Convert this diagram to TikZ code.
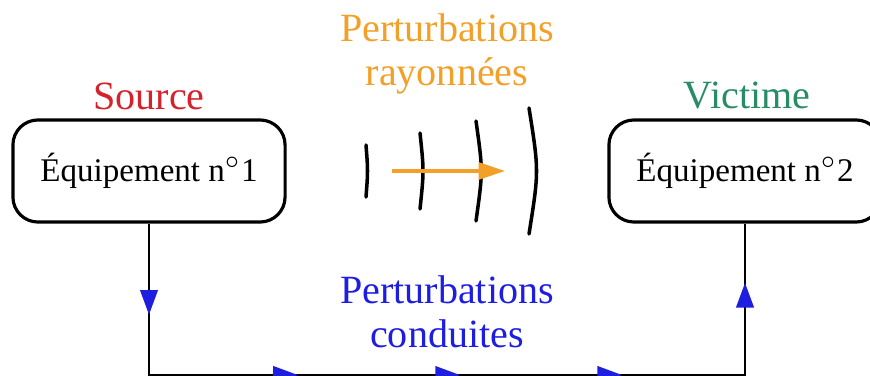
\documentclass[tikz,border=0pt]{standalone}
\usepackage{fontspec}
\setmainfont{Liberation Serif}
\usetikzlibrary{arrows.meta,decorations.markings}
\definecolor{srcred}{RGB}{214,34,44}
\definecolor{radorange}{RGB}{242,160,40}
\definecolor{vicgreen}{RGB}{40,140,100}
\definecolor{condblue}{RGB}{30,30,225}
\begin{document}
\begin{tikzpicture}[x=0.01cm, y=-0.01cm,
  ebox/.style={draw=black, line width=0.9pt, rounded corners=0.25cm, fill=white,
               minimum width=2.72cm, minimum height=1.02cm, align=center,
               font=\fontsize{9.4}{11}\selectfont},
  head/.style={align=center, font=\fontsize{11.4}{12.6}\selectfont},
  wave/.style={line width=1pt, line cap=round},
  rad/.style={-{Triangle[length=7.5pt,width=4.8pt]}, line width=0.9pt, draw=radorange},
  btip/.tip={Triangle[length=7pt,width=5pt,color=condblue]},
  cond/.style={line width=0.6pt, postaction=decorate, decoration={markings,
               mark=at position 0.91cm with {\arrow{btip}},
               mark=at position 3.0cm with {\arrow{btip}},
               mark=at position 4.62cm with {\arrow{btip}},
               mark=at position 6.24cm with {\arrow{btip}},
               mark=at position 8.39cm with {\arrow{btip}}}}
]
  \useasboundingbox (0,0) rectangle (870,376);

  % Equipements
  \node[ebox] (src) at (149,171) {Équipement n$^\circ$1};
  \node[ebox] (vic) at (745,171) {Équipement n$^\circ$2};
  \node[head, text=srcred] (srclbl) at (149,96) {Source};
  \node[head, text=vicgreen] (viclbl) at (747,96) {Victime};

  % Perturbations rayonnees
  \node[head, text=radorange] (radlbl) at (447,54) {Perturbations\\rayonnées};
  \foreach \x/\h/\b in {366/26/1, 420/38/2, 476/50/3.5, 529/63/5} {
    \draw[wave] (\x,171-\h) .. controls (\x+2*\b,171) .. (\x,171+\h);
  }
  \coordinate (rs) at (392,171);
  \coordinate (re) at (505,171);
  \draw[rad] (rs) -- (re);

  % Perturbations conduites
  \node[head, text=condblue] (condlbl) at (447,312) {Perturbations\\conduites};
  \coordinate (bl) at (149,375);
  \coordinate (br) at (745,375);
  \draw[cond] (src.south -| bl) -- (bl) -- (br) -- (br |- vic.south);
\end{tikzpicture}
\end{document}
